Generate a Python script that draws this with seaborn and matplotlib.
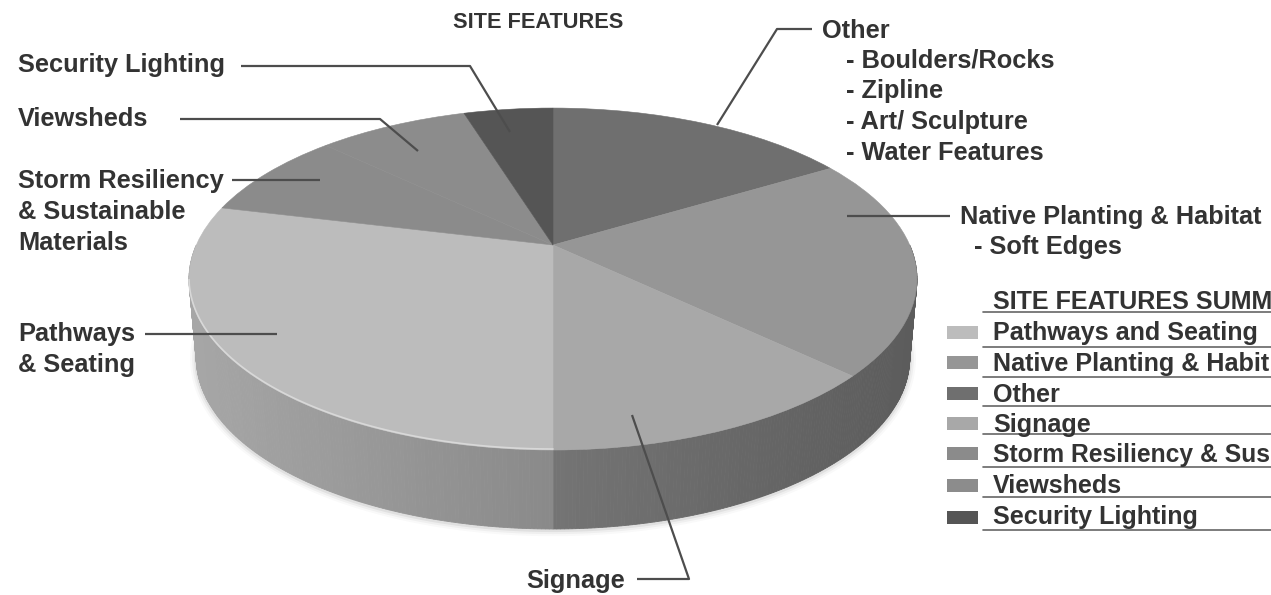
import numpy as np
import matplotlib
matplotlib.use('Agg')
import matplotlib.pyplot as plt
from matplotlib.patches import Rectangle
from matplotlib.transforms import Transform
import seaborn as sns

# slices clockwise from 12 o'clock
slices = ['Other', 'Native Planting & Habitat', 'Signage', 'Pathways and Seating',
          'Storm Resiliency & Sustainable Materials', 'Viewsheds', 'Security Lighting']
values = [16.4, 20.7, 12.9, 28.8, 8.3, 8.1, 4.8]
top_colors = ['#6f6f6f', '#969696', '#a8a8a8', '#bcbcbc', '#8b8b8b', '#8c8c8c', '#555555']

legend_title = 'SITE FEATURES SUMM'
legend_names = ['Pathways and Seating', 'Native Planting & Habit', 'Other', 'Signage',
                'Storm Resiliency & Sus', 'Viewsheds', 'Security Lighting']
legend_colors = ['#bcbcbc', '#969696', '#6f6f6f', '#a8a8a8', '#8b8b8b', '#8c8c8c', '#555555']

sns.set_theme(style='white')
plt.rcParams['font.family'] = ['Liberation Sans', 'DejaVu Sans']
INK = '#333333'
LINE = '#4d4d4d'


# tilted disc: unit circle -> page pixels
class Tilt(Transform):
    input_dims = 2
    output_dims = 2
    is_affine = False

    def transform_non_affine(self, pts):
        pts = np.asarray(pts)
        w = 1 + 0.199 * pts[:, 1]
        return np.column_stack([553 + 356.7 * pts[:, 0] / w, 245 - 164.2 * pts[:, 1] / w])

    def inverted(self):
        raise NotImplementedError


fig, ax = plt.subplots(figsize=(12.71, 5.95), dpi=100)
fig.subplots_adjust(0, 0, 1, 1)

tilt = Tilt()
depth = 79
taper = 0.98


def lower(pts):
    return np.column_stack([553 + (pts[:, 0] - 553) * taper, pts[:, 1] + depth])


# side wall: dark to the right, with a step at the scan crease
left_shades = sns.blend_palette(['#a6a6a6', '#8a8a8a'], 60)
right_shades = sns.blend_palette(['#747474', '#5c5c5c'], 60)
t = np.radians(np.linspace(0, -180, 361))
rim = tilt.transform(np.column_stack([np.cos(t), np.sin(t)]))
low = lower(rim)

# soft shadow under the wall
for lw, a in [(9, 0.025), (6, 0.04), (3, 0.06)]:
    ax.plot(low[:, 0], low[:, 1] + 1, color='black', lw=lw, alpha=a, zorder=0)

for i in range(len(t) - 1):
    mx = (rim[i, 0] + rim[i + 1, 0]) / 2
    if mx >= 553:
        shade = right_shades[min(59, int((mx - 553) / 365 * 60))]
    else:
        shade = left_shades[min(59, int((mx - 190) / 363 * 60))]
    poly = np.vstack([rim[i:i + 2], low[i:i + 2][::-1]])
    ax.fill(poly[:, 0], poly[:, 1], color=shade, lw=0.6, zorder=1)

wedges, _ = ax.pie(values, colors=top_colors, startangle=90, counterclock=False, radius=1)
for w, c in zip(wedges, top_colors):
    w.set_transform(tilt + ax.transData)
    w.set_zorder(2)
    w.set_edgecolor(c)
    w.set_linewidth(0.4)

# pale highlight on the rim of the big slice
edges = 90 - np.concatenate([[0], np.cumsum(values)]) * 3.6
t2 = np.radians(np.linspace(edges[3], edges[3] - 78, 120))
hl = tilt.transform(np.column_stack([np.cos(t2), np.sin(t2)]))
ax.plot(hl[:, 0], hl[:, 1] - 1, color='#d8d8d8', lw=1.2, zorder=2.5)

ax.set_aspect('auto')
ax.set_xlim(0, 1271)
ax.set_ylim(595, 0)
ax.axis('off')

# leader lines
leaders = [
    ([241, 470, 510], [66, 66, 132]),
    ([180, 380, 418], [119, 119, 151]),
    ([232, 320], [180, 180]),
    ([145, 277], [334, 334]),
    ([637, 689, 632], [579, 579, 415]),
    ([812, 777, 717], [29, 29, 125]),
    ([950, 847], [216, 216]),
]
for xs, ys in leaders:
    ax.plot(xs, ys, color=LINE, lw=1.6, zorder=3, solid_capstyle='butt')

labels = [
    ('SITE FEATURES', 453, 23, 15.7),
    ('Other', 822, 31, 18.3), ('- Boulders/Rocks', 846, 60, 18.3), ('- Zipline', 846, 91, 18.3),
    ('- Art/ Sculpture', 846, 122, 18.3), ('- Water Features', 846, 153, 18.3),
    ('Native Planting & Habitat', 960, 217, 18.3), ('- Soft Edges', 974, 247, 18.3),
    ('Security Lighting', 18, 65, 18.3), ('Viewsheds', 18, 119, 18.3),
    ('Storm Resiliency', 18, 181, 18.3), ('& Sustainable', 18, 212, 18.3), ('Materials', 18, 243, 18.3),
    ('Pathways', 18, 334, 18.3), ('& Seating', 18, 365, 18.3), ('Signage', 526, 581, 18.3),
]
for s, x, y, fs in labels:
    ax.text(x, y, s, fontsize=fs, fontweight='bold', color=INK, ha='left', va='center', zorder=4)

# summary table, cropped by the right edge in the scan
ax.text(993, 302, legend_title, fontsize=18.1, fontweight='bold', color=INK, va='center')
rule_y = [312, 347, 377, 406, 434, 467, 497, 530]
text_y = [333, 364, 395, 425, 455, 486, 517]
chip_y = [332, 362, 393, 423, 453, 485, 517]
row_sizes = [18.1, 18.1, 18.1, 18.1, 17.7, 18.1, 18.1]
for y in rule_y:
    ax.plot([983, 1271], [y, y], color='#666666', lw=1.2, zorder=3)
for name, col, ty, cy, fs in zip(legend_names, legend_colors, text_y, chip_y, row_sizes):
    ax.add_patch(Rectangle((947, cy - 6.5), 31, 13, color=col, lw=0, zorder=3))
    ax.text(993, ty, name, fontsize=fs, fontweight='bold', color=INK, va='center')

fig.savefig('out.png', dpi=100)
